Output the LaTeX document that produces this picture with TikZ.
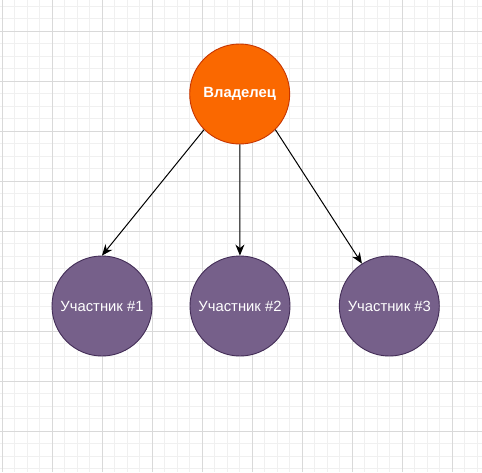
\documentclass[tikz,border=0pt]{standalone}
\usepackage{fontspec}
\setmainfont{Liberation Sans}
\usetikzlibrary{arrows.meta}
\definecolor{ownfill}{HTML}{FA6800}
\definecolor{ownline}{HTML}{C73500}
\definecolor{memfill}{HTML}{76608A}
\definecolor{memline}{HTML}{432D57}
\definecolor{gridminor}{HTML}{F0F0F0}
\definecolor{gridmajor}{HTML}{D9D9D9}
\tikzset{
  minorline/.style={draw=gridminor, line width=0.8pt},
  majorline/.style={draw=gridmajor, line width=0.8pt},
  ownerbox/.style={circle, draw=ownline, fill=ownfill, line width=0.9pt, minimum size=100pt, inner sep=0pt, text=white, font=\fontsize{14.8}{17}\selectfont\bfseries},
  memberbox/.style={circle, draw=memline, fill=memfill, line width=0.9pt, minimum size=100pt, inner sep=0pt, text=white, font=\fontsize{14.8}{17}\selectfont},
  arr/.style={draw=black, line width=1pt, -{Stealth[length=11pt, width=9pt, inset=3.5pt]}}
}
\begin{document}
\begin{tikzpicture}[x=1pt, y=-1pt]
\useasboundingbox (0,0) rectangle (482,472);
\fill[white] (0,0) rectangle (482,472);
\foreach \i in {0,...,38} {
  \draw[minorline] ({2.3+12.5*\i},0) -- ({2.3+12.5*\i},472);
  \draw[minorline] (0,{6+12.5*\i}) -- (482,{6+12.5*\i});
}
\foreach \i in {0,...,9} {
  \draw[majorline] ({2.3+50*\i},0) -- ({2.3+50*\i},472);
  \draw[majorline] (0,{31+50*\i-50}) -- (482,{31+50*\i-50});
}
\node[ownerbox] (own) at (239.7,94) {Владелец};
\node[memberbox] (p1) at (102,306) {Участник \#1};
\node[memberbox] (p2) at (240,306) {Участник \#2};
\node[memberbox] (p3) at (389.3,306) {Участник \#3};
\draw[arr] (own.south west) -- (p1.north);
\draw[arr] (own) -- (p2);
\draw[arr] (own.south east) -- (p3);
\end{tikzpicture}
\end{document}
